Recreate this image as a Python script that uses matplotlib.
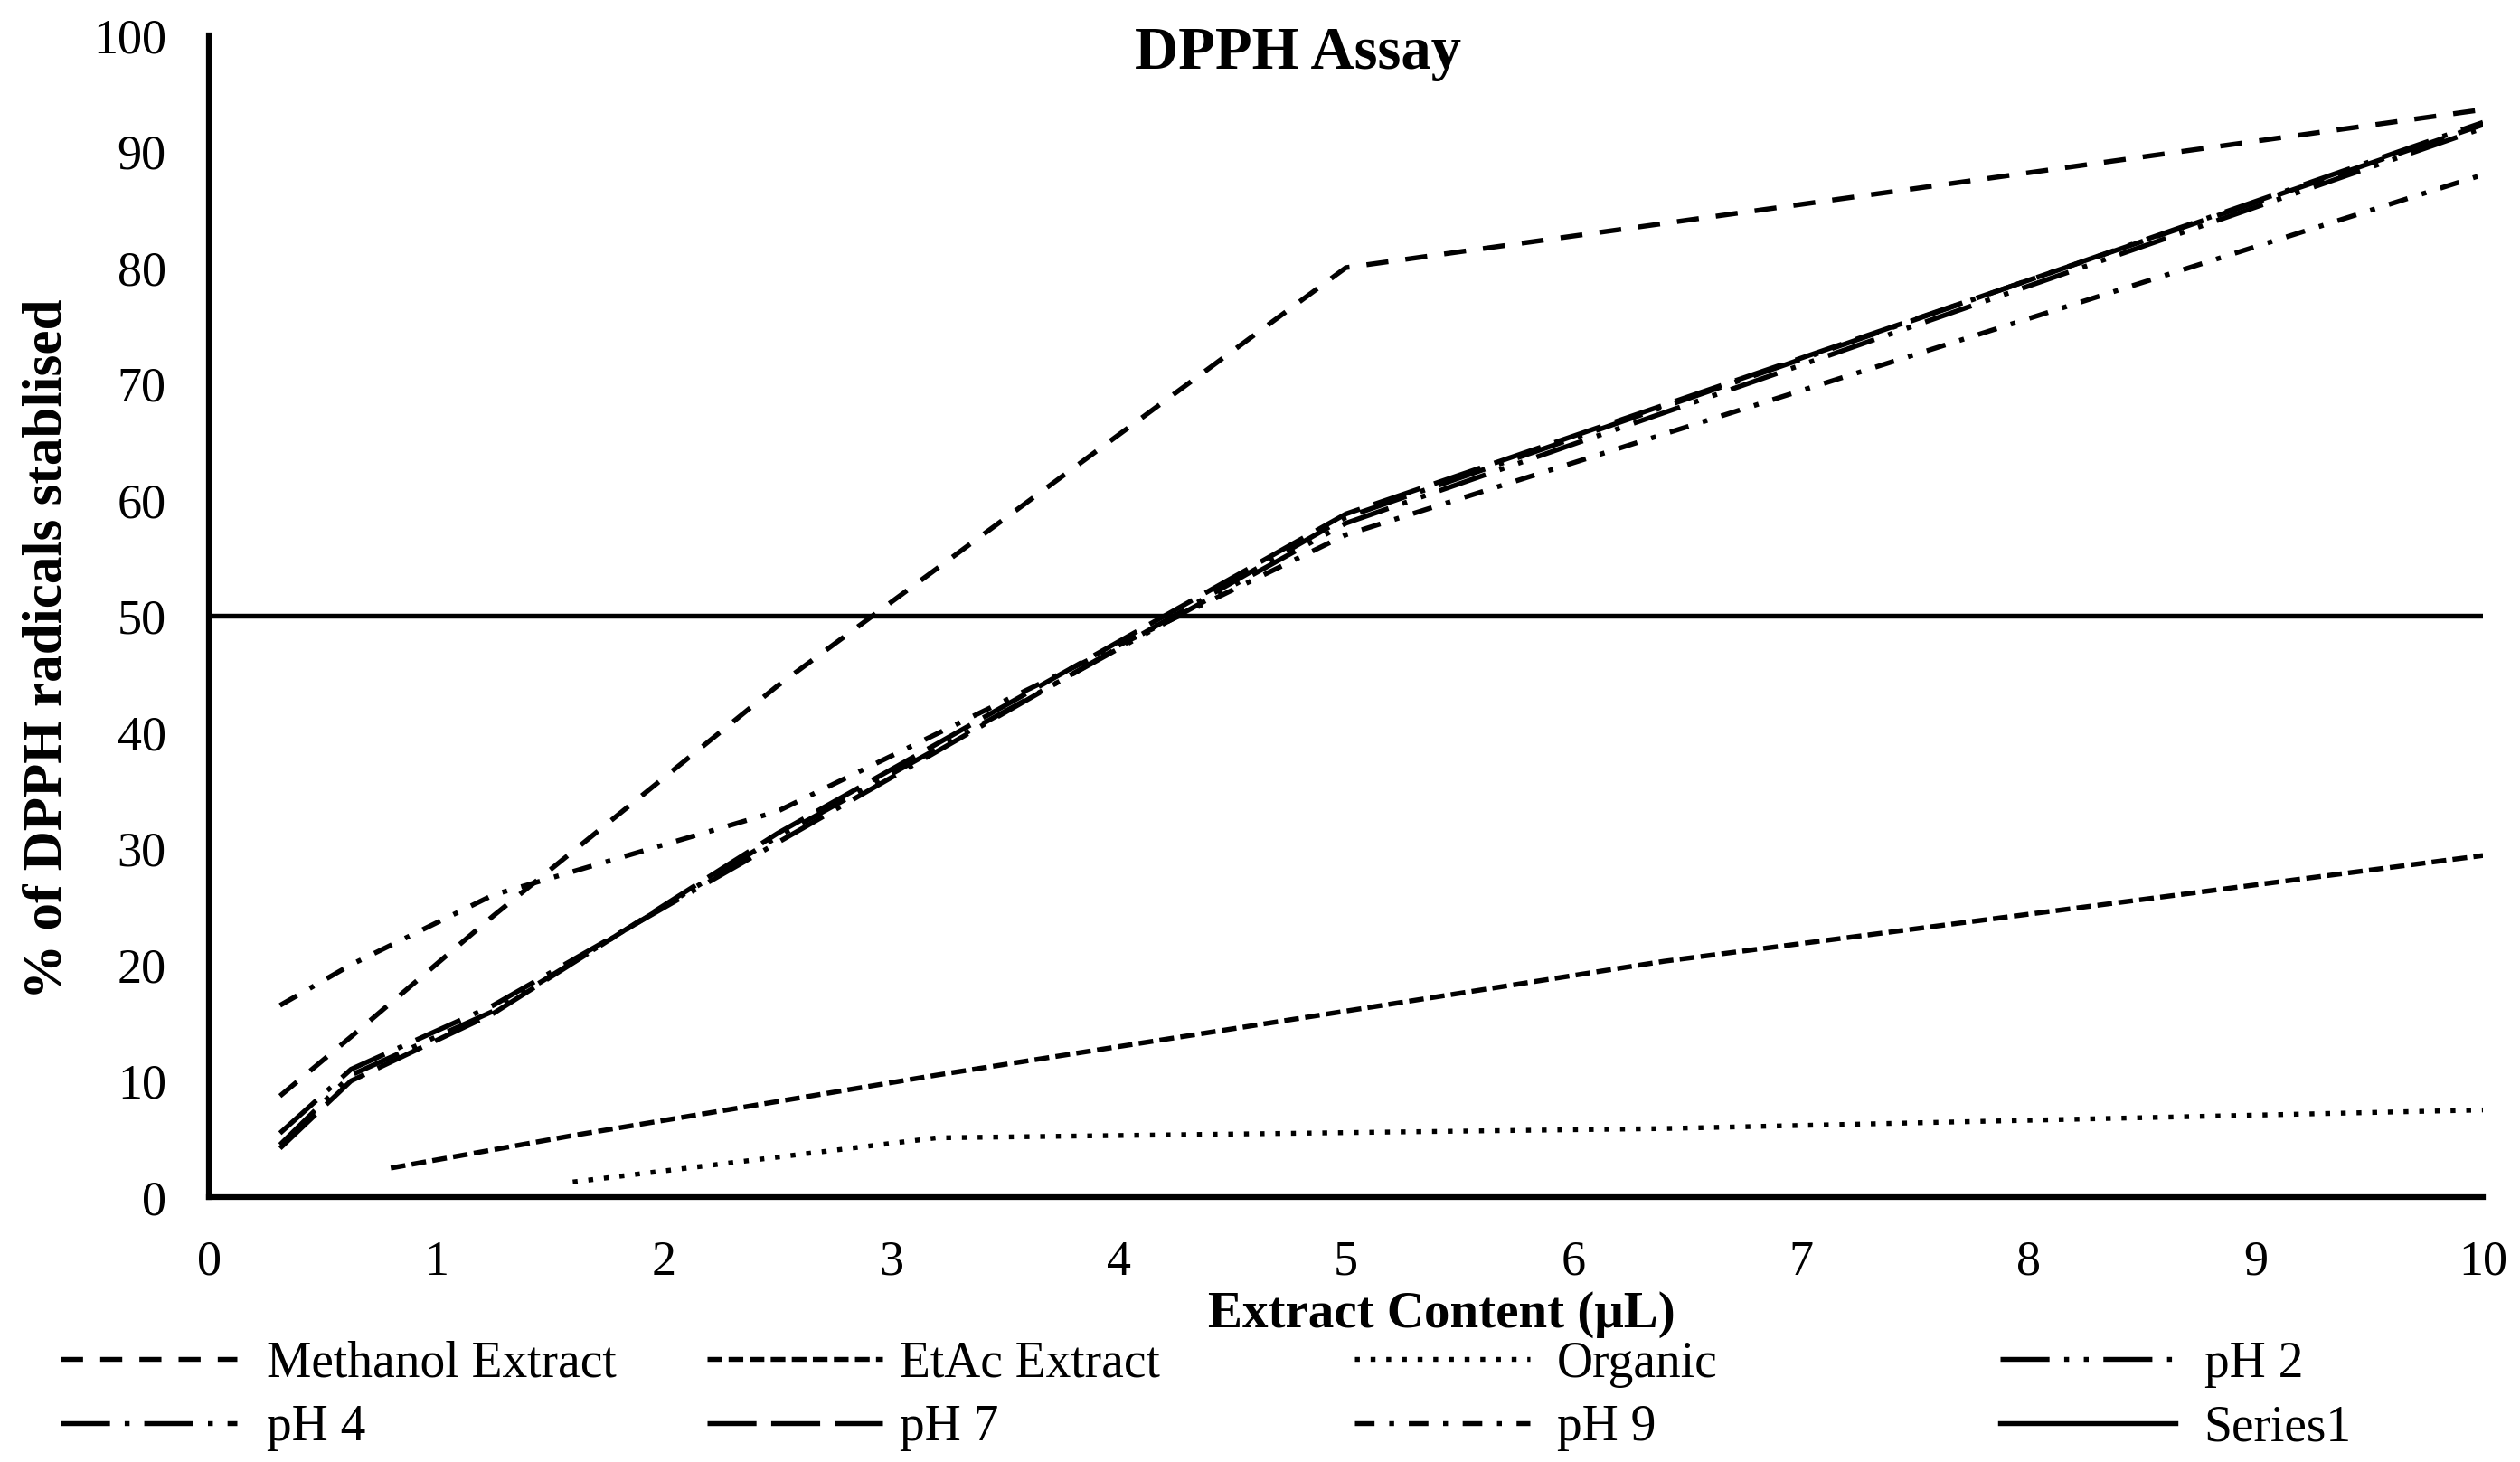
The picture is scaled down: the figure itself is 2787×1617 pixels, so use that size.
import matplotlib
matplotlib.use("Agg")
import matplotlib.pyplot as plt
from matplotlib.lines import Line2D

plt.rcParams['font.family'] = ['Liberation Serif', 'DejaVu Serif']

# data
x_dil = [0.3125, 0.625, 1.25, 2.5, 5, 10]
methanol = [8.7, 13.8, 24.2, 44.0, 80.0, 93.6]
ph2 = [4.5, 10.5, 16.0, 31.0, 58.0, 92.0]
ph4 = [5.5, 11.0, 16.5, 30.5, 58.5, 92.5]
ph7 = [4.2, 10.0, 15.8, 31.3, 58.8, 92.3]
ph9 = [16.5, 20.0, 26.0, 33.2, 57.0, 88.0]

x_etac = [0.8, 1.6, 3.2, 6.4, 10]
etac = [2.5, 5.3, 10.5, 20.3, 29.4]

x_org = [1.6, 3.2, 6.4, 10]
organic = [1.3, 5.1, 5.9, 7.5]

x_s1 = [0, 10]
series1 = [50, 50]

labels = ['Methanol Extract', 'EtAc Extract', 'Organic', 'pH 2',
          'pH 4', 'pH 7', 'pH 9', 'Series1']

lw = 3.9
styles = {
    'Methanol Extract': (0, (4.5, 3.5)),
    'EtAc Extract': (0, (3, 1.3)),
    'Organic': (0, (1, 2.2)),
    'pH 2': (0, (10, 3, 1, 3, 1, 3)),
    'pH 4': (0, (10, 3, 1, 3)),
    'pH 7': (0, (10, 3)),
    'pH 9': (0, (4, 3, 1, 3)),
    'Series1': '-',
}

fig = plt.figure(figsize=(27.87, 16.17), dpi=100)
ax = fig.add_axes([0.0829, 0.1812, 0.9024, 0.7947])

series = [
    ('Methanol Extract', x_dil, methanol),
    ('EtAc Extract', x_etac, etac),
    ('Organic', x_org, organic),
    ('pH 2', x_dil, ph2),
    ('pH 4', x_dil, ph4),
    ('pH 7', x_dil, ph7),
    ('pH 9', x_dil, ph9),
    ('Series1', x_s1, series1),
]
for name, xs, ys in series:
    ax.plot(xs, ys, color='black', lw=lw, linestyle=styles[name], label=name)

ax.set_xlim(0, 10)
ax.set_ylim(0, 100)
ax.set_xticks(range(0, 11))
ax.set_yticks(range(0, 101, 10))
ax.tick_params(length=0, labelsize=39, pad=34)
for s in ['top', 'right']:
    ax.spines[s].set_visible(False)
for s in ['left', 'bottom']:
    ax.spines[s].set_linewidth(4.5)

fig.text(0.515, 0.9635, 'DPPH Assay', ha='center', va='center',
         fontsize=48, fontweight='bold')
fig.text(0.572, 0.101, 'Extract Content (μL)', ha='center', va='center',
         fontsize=41, fontweight='bold')
fig.text(0.019, 0.556, '% of DPPH radicals stablised', ha='center',
         va='center', rotation=90, fontsize=44, fontweight='bold')

# legend: 4 columns, 2 rows, row-major order
handles = {name: Line2D([], [], color='black', lw=lw, linestyle=styles[name])
           for name in labels}
col_x = [0.0242, 0.2806, 0.5375, 0.7937]
pads = [0.6, 0.34, 0.53, 0.56]
for i in range(4):
    names = [labels[i], labels[i + 4]]
    fig.legend([handles[n] for n in names], names, loc='upper left',
               bbox_to_anchor=(col_x[i], 0.083), frameon=False,
               fontsize=40, handlelength=3.5, handletextpad=pads[i],
               borderpad=0, borderaxespad=0, labelspacing=0.33)

fig.savefig('out.png', dpi=100)
